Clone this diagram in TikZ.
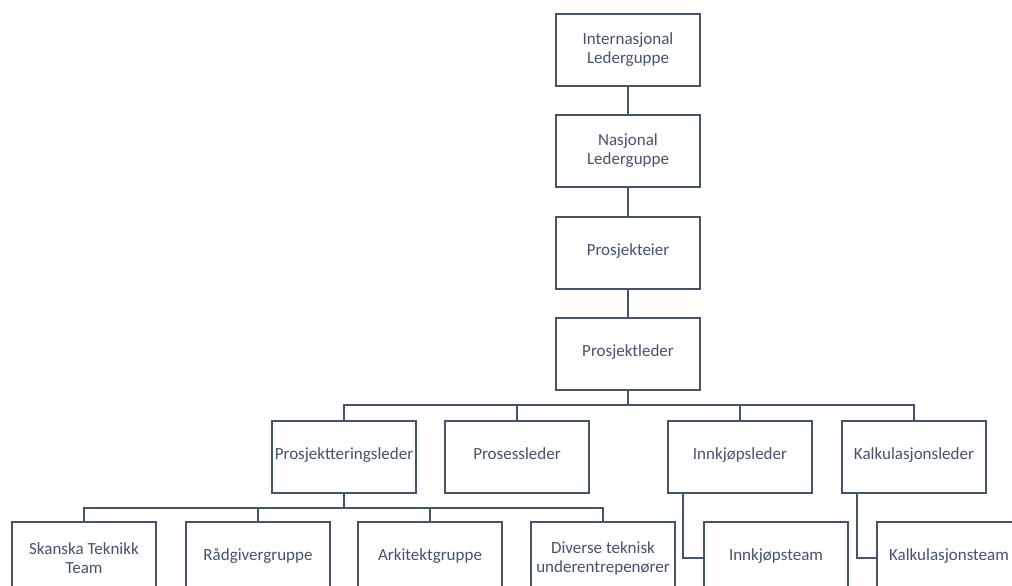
\documentclass[tikz,border=0pt]{standalone}
\usepackage{fontspec}
\setmainfont{Carlito}
\definecolor{boxc}{HTML}{44546A}
\definecolor{txtc}{HTML}{44546A}
\begin{document}
\begin{tikzpicture}[x=1pt,y=-1pt,
  box/.style={draw=boxc, line width=2.2pt, minimum width=144pt, minimum height=72pt,
    inner sep=0pt, outer sep=0pt, align=center, text=txtc, anchor=north west,
    font=\fontsize{17}{19}\selectfont},
  one/.style={box, text height=0.8em, text depth=0.22em},
  conn/.style={draw=boxc, line width=2pt, line cap=rect}]
\clip (0,0) rectangle (1012,586);
\fill[white] (0,0) rectangle (1012,586);
% vertical chain
\node[box] (ig) at (556,14) {Internasjonal\\Lederguppe};
\node[box] (nl) at (556,115) {Nasjonal\\Lederguppe};
\node[one] (pe) at (556,217) {Prosjekteier};
\node[one] (pl) at (556,318) {Prosjektleder};
% level 2
\node[one] (ptl) at (272,421) {Prosjektteringsleder};
\node[one] (ps) at (445,421) {Prosessleder};
\node[one] (il) at (668,421) {Innkjøpsleder};
\node[one] (kl) at (842,421) {Kalkulasjonsleder};
% level 3
\node[box] (sk) at (12,522) {Skanska Teknikk\\Team};
\node[one] (rg) at (186,522) {Rådgivergruppe};
\node[one] (ar) at (358,522) {Arkitektgruppe};
\node[box] (dv) at (531,522) {Diverse teknisk\\underentrepenører};
\node[one] (it) at (704,522) {Innkjøpsteam};
\node[one] (kt) at (877,522) {Kalkulasjonsteam};
% connectors
\draw[conn] (ig.south) -- (nl.north);
\draw[conn] (nl.south) -- (pe.north);
\draw[conn] (pe.south) -- (pl.north);
\path (pl.south) ++(0,15) coordinate (b1);
\draw[conn] (pl.south) -- (b1);
\draw[conn] (ptl.north) |- (b1) -| (kl.north);
\draw[conn] (ps.north) -- (ps.north |- b1);
\draw[conn] (il.north) -- (il.north |- b1);
\path (ptl.south) ++(0,15) coordinate (b2);
\draw[conn] (ptl.south) -- (b2);
\draw[conn] (sk.north) |- (b2) -| (dv.north);
\draw[conn] (rg.north) -- (rg.north |- b2);
\draw[conn] (ar.north) -- (ar.north |- b2);
\draw[conn] ([xshift=15pt]il.south west) |- (it.west);
\draw[conn] ([xshift=15pt]kl.south west) |- (kt.west);
\end{tikzpicture}
\end{document}
